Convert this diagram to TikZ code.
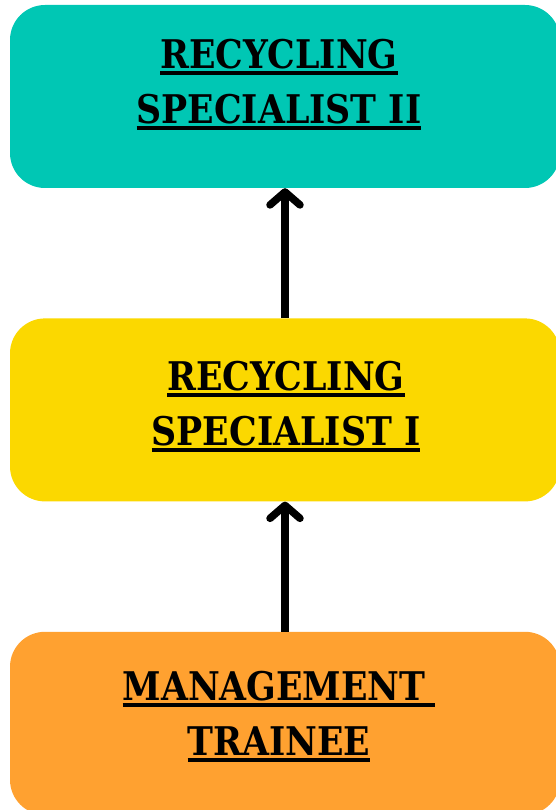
\documentclass[tikz,border=0pt]{standalone}
\usepackage{fontspec}
\setmainfont{DejaVu Serif}[FakeStretch=0.88]
\usetikzlibrary{positioning,arrows.meta}
\definecolor{tealbox}{RGB}{0,199,180}
\definecolor{yellowbox}{RGB}{251,216,0}
\definecolor{orangebox}{RGB}{255,161,48}
\newcommand\rankline[1]{\setbox0\hbox{#1}\rlap{\rule[-6.5pt]{\wd0}{4pt}}\box0}

\tikzset{
  stage/.style={rectangle, rounded corners=35pt, minimum width=550pt, minimum height=183pt, inner sep=0pt},
  stagetext/.style={align=center, font=\fontsize{39.5}{55.5}\selectfont\bfseries, inner sep=0pt},
  promote/.style={line width=7.5pt, -{Straight Barb[length=13pt, width=30pt, round]}}
}

\begin{document}
\begin{tikzpicture}
\useasboundingbox (0pt,0pt) rectangle (556pt,-810pt);

\node[stage, fill=tealbox] (specialisttwo) at (285pt,-96.5pt) {};
\node[stage, fill=yellowbox, below=130pt of specialisttwo] (specialistone) {};
\node[stage, fill=orangebox, below=130pt of specialistone] (trainee) {};

\node[stagetext] (specialisttwotext) at ([xshift=-6pt, yshift=12pt]specialisttwo.center) {\rankline{RECYCLING}\\ \rankline{SPECIALIST II}};
\node[stagetext] (specialistonetext) at ([xshift=1pt, yshift=3.5pt]specialistone.center) {\rankline{RECYCLING}\\ \rankline{SPECIALIST I}};
\node[stagetext] (traineetext) at ([xshift=-6pt, yshift=6.5pt]trainee.center) {\rankline{MANAGEMENT\hspace{0.25em}}\\ \rankline{TRAINEE}};

\draw[promote] (specialistone.north) -- (specialisttwo.south);
\draw[promote] (trainee.north) -- (specialistone.south);

\end{tikzpicture}
\end{document}
